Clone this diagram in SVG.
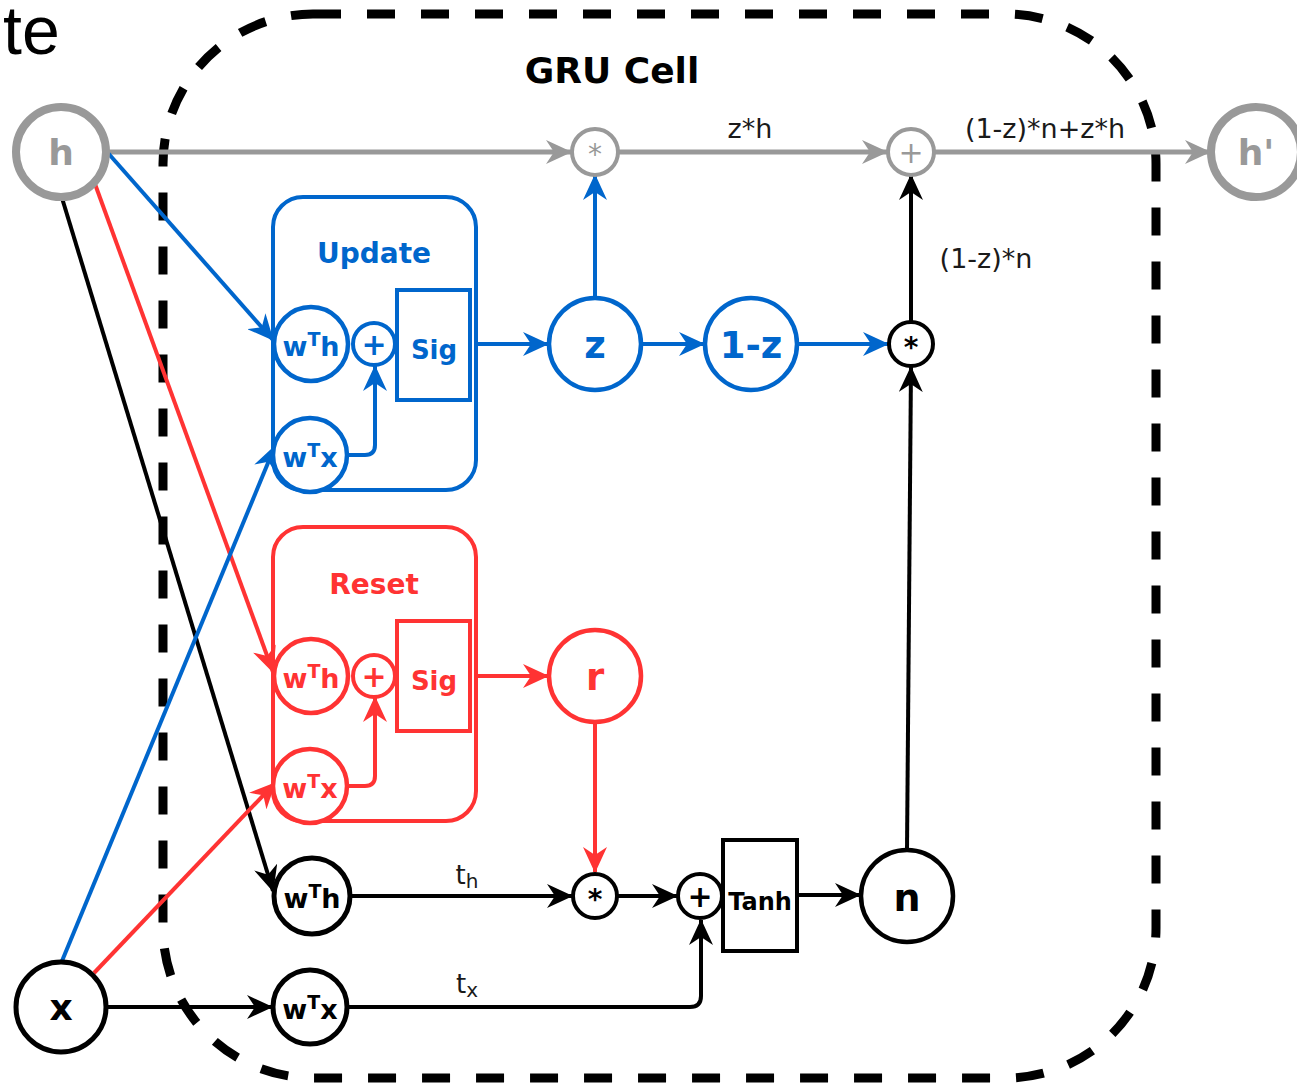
<svg xmlns="http://www.w3.org/2000/svg" width="1297" height="1085" viewBox="0 0 1297 1085">
<style>
.b{font-family:"DejaVu Sans",sans-serif;font-weight:bold;text-anchor:middle}
.n{font-family:"DejaVu Sans",sans-serif;text-anchor:middle;fill:#1a1a1a}
.gray{stroke:#999999;fill:none}
.blue{stroke:#0066CC;fill:none}
.red{stroke:#FF3333;fill:none}
.blk{stroke:#000;fill:none}
</style>
<defs>
<marker id="ag" viewBox="0 0 26 24" refX="25" refY="12" markerWidth="26" markerHeight="24" orient="auto" markerUnits="userSpaceOnUse"><path d="M0,0 L26,12 L0,24 L8,12 z" fill="#999999"/></marker>
<marker id="au" viewBox="0 0 26 24" refX="25" refY="12" markerWidth="26" markerHeight="24" orient="auto" markerUnits="userSpaceOnUse"><path d="M0,0 L26,12 L0,24 L8,12 z" fill="#0066CC"/></marker>
<marker id="ar" viewBox="0 0 26 24" refX="25" refY="12" markerWidth="26" markerHeight="24" orient="auto" markerUnits="userSpaceOnUse"><path d="M0,0 L26,12 L0,24 L8,12 z" fill="#FF3333"/></marker>
<marker id="ak" viewBox="0 0 26 24" refX="25" refY="12" markerWidth="26" markerHeight="24" orient="auto" markerUnits="userSpaceOnUse"><path d="M0,0 L26,12 L0,24 L8,12 z" fill="#000"/></marker>
</defs>
<rect width="1297" height="1085" fill="#fff"/>
<text x="3" y="54" font-family="Liberation Sans, sans-serif" font-size="68" fill="#000">te</text>

<g id="cell">
<rect x="163" y="14" width="993" height="1064" rx="150" ry="150" fill="none" stroke="#000" stroke-width="9" stroke-dasharray="28 26"/>
<text class="b" x="612" y="83" font-size="36" fill="#000">GRU Cell</text>
</g>

<g id="connectors">
<line class="gray" x1="108" y1="152" x2="571" y2="152" stroke-width="5" marker-end="url(#ag)"/>
<line class="gray" x1="619" y1="152" x2="887" y2="152" stroke-width="5" marker-end="url(#ag)"/>
<line class="gray" x1="935" y1="152" x2="1210" y2="152" stroke-width="5" marker-end="url(#ag)"/>
<line class="blue" x1="108" y1="153" x2="273" y2="340" stroke-width="4" marker-end="url(#au)"/>
<line class="red" x1="95" y1="184" x2="273" y2="672" stroke-width="4" marker-end="url(#ar)"/>
<line class="blk" x1="62" y1="198" x2="273" y2="891" stroke-width="4" marker-end="url(#ak)"/>
<line class="blue" x1="62" y1="961" x2="275" y2="446" stroke-width="4" marker-end="url(#au)"/>
<line class="red" x1="94" y1="973" x2="275" y2="783" stroke-width="4" marker-end="url(#ar)"/>
<line class="blk" x1="106" y1="1007" x2="272" y2="1007" stroke-width="4" marker-end="url(#ak)"/>
<path class="blue" d="M348,455 H365 Q375,455 375,445 V366" stroke-width="4" marker-end="url(#au)"/>
<line class="blue" x1="476" y1="344" x2="548" y2="344" stroke-width="4" marker-end="url(#au)"/>
<line class="blue" x1="641" y1="344" x2="704" y2="344" stroke-width="4" marker-end="url(#au)"/>
<line class="blue" x1="797" y1="344" x2="888" y2="344" stroke-width="4" marker-end="url(#au)"/>
<line class="blue" x1="595" y1="298" x2="595" y2="175" stroke-width="4" marker-end="url(#au)"/>
<path class="red" d="M348,786 H365 Q375,786 375,776 V697" stroke-width="4" marker-end="url(#ar)"/>
<line class="red" x1="476" y1="676" x2="548" y2="676" stroke-width="4" marker-end="url(#ar)"/>
<line class="red" x1="595" y1="722" x2="595" y2="872" stroke-width="4" marker-end="url(#ar)"/>
<line class="blk" x1="350" y1="896" x2="572" y2="896" stroke-width="4" marker-end="url(#ak)"/>
<line class="blk" x1="618" y1="896" x2="677" y2="896" stroke-width="4" marker-end="url(#ak)"/>
<path class="blk" d="M348,1007 H690 Q701,1007 701,996 V920" stroke-width="4" marker-end="url(#ak)"/>
<line class="blk" x1="798" y1="895" x2="860" y2="895" stroke-width="4" marker-end="url(#ak)"/>
<line class="blk" x1="907" y1="850" x2="911" y2="367" stroke-width="4" marker-end="url(#ak)"/>
<line class="blk" x1="911" y1="321" x2="911" y2="175" stroke-width="4" marker-end="url(#ak)"/>
<text class="n" x="750" y="138" font-size="27">z*h</text>
<text class="n" x="1045" y="138" font-size="27">(1-z)*n+z*h</text>
<text class="n" x="986" y="268" font-size="27">(1-z)*n</text>
<text class="n" x="467" y="884" font-size="26">t<tspan font-size="20" dy="4">h</tspan></text>
<text class="n" x="467" y="993" font-size="26">t<tspan font-size="20" dy="4">x</tspan></text>
</g>

<g id="node-h">
<circle cx="61" cy="152" r="45" fill="#fff" stroke="#999999" stroke-width="8"/>
<text class="b" x="61" y="165" font-size="36" fill="#999999">h</text>
</g>
<g id="node-hprime">
<circle cx="1256" cy="152" r="45" fill="#fff" stroke="#999999" stroke-width="8"/>
<text class="b" x="1256" y="165" font-size="36" fill="#999999">h'</text>
</g>
<g id="node-x">
<circle cx="61" cy="1007" r="45" fill="#fff" stroke="#000" stroke-width="5"/>
<text class="b" x="61" y="1020" font-size="36" fill="#000">x</text>
</g>
<g id="node-mul-top">
<circle cx="595" cy="152" r="23" fill="#fff" stroke="#999999" stroke-width="4"/>
<text class="n" x="595" y="164" font-size="28" style="fill:#999999">*</text>
</g>
<g id="node-add-top">
<circle cx="911" cy="152" r="23" fill="#fff" stroke="#999999" stroke-width="4"/>
<text class="n" x="911" y="163" font-size="30" style="fill:#999999">+</text>
</g>

<g id="update">
<rect x="273" y="197" width="203" height="293" rx="30" fill="none" stroke="#0066CC" stroke-width="4"/>
<text class="b" x="374" y="263" font-size="28" fill="#0066CC">Update</text>
<circle cx="311" cy="344" r="37" fill="#fff" stroke="#0066CC" stroke-width="4.5"/>
<text class="b" x="311" y="356" font-size="27" fill="#0066CC">w<tspan font-size="19" dy="-10">T</tspan><tspan dy="10">h</tspan></text>
<circle cx="374" cy="344" r="21" fill="#fff" stroke="#0066CC" stroke-width="4"/>
<text class="b" x="374" y="355" font-size="30" fill="#0066CC">+</text>
<rect x="397" y="290" width="73" height="110" fill="#fff" stroke="#0066CC" stroke-width="4"/>
<text class="b" x="434" y="359" font-size="26" fill="#0066CC">Sig</text>
<circle cx="310" cy="455" r="37" fill="#fff" stroke="#0066CC" stroke-width="4.5"/>
<text class="b" x="310" y="467" font-size="27" fill="#0066CC">w<tspan font-size="19" dy="-10">T</tspan><tspan dy="10">x</tspan></text>
</g>

<g id="node-z">
<circle cx="595" cy="344" r="46" fill="#fff" stroke="#0066CC" stroke-width="4.5"/>
<text class="b" x="595" y="358" font-size="37" fill="#0066CC">z</text>
</g>
<g id="node-1mz">
<circle cx="751" cy="344" r="46" fill="#fff" stroke="#0066CC" stroke-width="4.5"/>
<text class="b" x="751" y="358" font-size="37" fill="#0066CC">1-z</text>
</g>
<g id="node-mul-z">
<circle cx="911" cy="344" r="22" fill="#fff" stroke="#000" stroke-width="4"/>
<text class="b" x="911" y="357" font-size="28" fill="#000">*</text>
</g>

<g id="reset">
<rect x="273" y="527" width="203" height="294" rx="30" fill="none" stroke="#FF3333" stroke-width="4"/>
<text class="b" x="374" y="594" font-size="28" fill="#FF3333">Reset</text>
<circle cx="311" cy="676" r="37" fill="#fff" stroke="#FF3333" stroke-width="4.5"/>
<text class="b" x="311" y="688" font-size="27" fill="#FF3333">w<tspan font-size="19" dy="-10">T</tspan><tspan dy="10">h</tspan></text>
<circle cx="374" cy="676" r="21" fill="#fff" stroke="#FF3333" stroke-width="4"/>
<text class="b" x="374" y="687" font-size="30" fill="#FF3333">+</text>
<rect x="397" y="621" width="73" height="110" fill="#fff" stroke="#FF3333" stroke-width="4"/>
<text class="b" x="434" y="690" font-size="26" fill="#FF3333">Sig</text>
<circle cx="310" cy="786" r="37" fill="#fff" stroke="#FF3333" stroke-width="4.5"/>
<text class="b" x="310" y="798" font-size="27" fill="#FF3333">w<tspan font-size="19" dy="-10">T</tspan><tspan dy="10">x</tspan></text>
</g>

<g id="node-r">
<circle cx="595" cy="676" r="46" fill="#fff" stroke="#FF3333" stroke-width="4.5"/>
<text class="b" x="595" y="690" font-size="37" fill="#FF3333">r</text>
</g>

<g id="node-wth">
<circle cx="312" cy="896" r="38" fill="#fff" stroke="#000" stroke-width="5"/>
<text class="b" x="312" y="908" font-size="27" fill="#000">w<tspan font-size="19" dy="-10">T</tspan><tspan dy="10">h</tspan></text>
</g>
<g id="node-wtx">
<circle cx="310" cy="1007" r="37" fill="#fff" stroke="#000" stroke-width="5"/>
<text class="b" x="310" y="1019" font-size="27" fill="#000">w<tspan font-size="19" dy="-10">T</tspan><tspan dy="10">x</tspan></text>
</g>
<g id="node-mul-r">
<circle cx="595" cy="896" r="22" fill="#fff" stroke="#000" stroke-width="4"/>
<text class="b" x="595" y="909" font-size="28" fill="#000">*</text>
</g>
<g id="node-add-n">
<circle cx="700" cy="896" r="22" fill="#fff" stroke="#000" stroke-width="4"/>
<text class="b" x="700" y="907" font-size="30" fill="#000">+</text>
</g>
<g id="node-tanh">
<rect x="723" y="840" width="74" height="111" fill="#fff" stroke="#000" stroke-width="4"/>
<text class="b" x="760" y="910" font-size="24" fill="#000">Tanh</text>
</g>
<g id="node-n">
<circle cx="907" cy="896" r="46" fill="#fff" stroke="#000" stroke-width="4.5"/>
<text class="b" x="907" y="911" font-size="38" fill="#000">n</text>
</g>
</svg>
